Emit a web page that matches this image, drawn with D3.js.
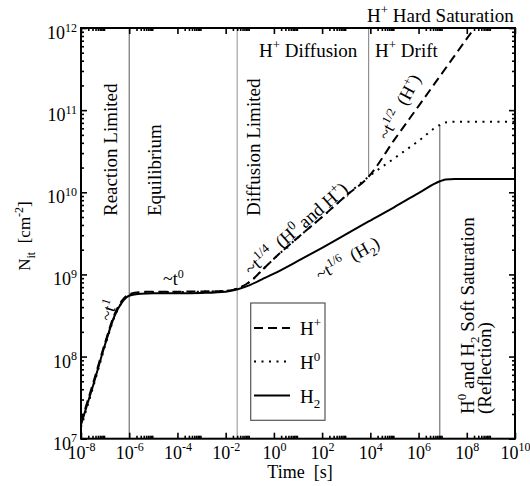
<!DOCTYPE html>
<html><head><meta charset="utf-8">
<script src="https://cdn.jsdelivr.net/npm/d3@7"></script>
<style>
body{margin:0;background:#fff;}
text{font-family:"Liberation Serif","Times New Roman",serif;fill:#000;white-space:pre;}
</style>
</head><body>
<svg id="c" width="530" height="486"></svg>
<script>
// ---------------- data ----------------
const seriesNames = ["H+", "H0", "H2"];
const legendLabels = ["H^{+}", "H^{0}", "H_{2}"];

// time [s] for the H0 and H2 curves
const timeH0H2 = [1e-8, 3.2e-8, 1e-7, 2.5e-7, 5e-7, 1e-6, 3.2e-6, 1e-5, 1e-4, 1e-3, 1e-2, 3.2e-2, 1e-1, 3.2e-1, 1, 10, 100, 1e3, 8.5e3, 1e5, 1e6, 7.6e6, 1.3e7, 3.2e7, 1e8, 1e9, 1e10];
const valuesH2 = [1.48e7, 4.47e7, 1.41e8, 3.16e8, 4.57e8, 5.5e8, 5.82e8, 5.89e8, 5.89e8, 5.96e8, 6.17e8, 6.61e8, 7.41e8, 8.71e8, 1.02e9, 1.46e9, 2.11e9, 3.09e9, 4.42e9, 6.61e9, 9.77e9, 1.36e10, 1.43e10, 1.45e10, 1.45e10, 1.45e10, 1.45e10];
const valuesH0 = [1.38e7, 4.27e7, 1.35e8, 3.09e8, 4.57e8, 5.62e8, 6.03e8, 6.1e8, 6.1e8, 6.17e8, 6.31e8, 6.76e8, 8.13e8, 1.12e9, 1.55e9, 2.82e9, 5.01e9, 9.12e9, 1.55e10, 2.6e10, 4.22e10, 6.61e10, 7.08e10, 7.24e10, 7.24e10, 7.24e10, 7.24e10];
// time [s] for the H+ curve
const timeHp = [1e-8, 3.2e-8, 1e-7, 2.5e-7, 5e-7, 1e-6, 3.2e-6, 1e-5, 1e-4, 1e-3, 1e-2, 3.2e-2, 1e-1, 3.2e-1, 1, 10, 100, 1e3, 8.5e3, 1e5, 1e6, 1e7, 1e8, 2.1e8];
const valuesHp = [1.58e7, 4.79e7, 1.48e8, 3.31e8, 4.79e8, 5.75e8, 6.1e8, 6.17e8, 6.17e8, 6.2e8, 6.31e8, 6.76e8, 8.13e8, 1.12e9, 1.55e9, 2.82e9, 5.01e9, 9.12e9, 1.55e10, 4.37e10, 1.12e11, 2.88e11, 7.41e11, 1e12];

// regime boundaries: time, lower N, upper N
const boundaryTimes = [1e-6, 3e-2, 8.5e3, 7.6e6];
const boundaryLow = [1e7, 1e7, 1.55e10, 1e7];
const boundaryHigh = [1e12, 1e12, 1e12, 6.61e10];

// axis ticks
const xTickValues = [1e-8, 1e-6, 1e-4, 1e-2, 1, 1e2, 1e4, 1e6, 1e8, 1e10];
const xTickLabels = ["10^{-8}", "10^{-6}", "10^{-4}", "10^{-2}", "10^{0}", "10^{2}", "10^{4}", "10^{6}", "10^{8}", "10^{10}"];
const yTickValues = [1e7, 1e8, 1e9, 1e10, 1e11, 1e12];
const yTickLabels = ["10^{7}", "10^{8}", "10^{9}", "10^{10}", "10^{11}", "10^{12}"];

// ---------------- layout ----------------
const W = 530, H = 486;
const m = {l: 81, t: 28, r: 515, b: 438.7};
const x = d3.scaleLog().domain([1e-8, 1e10]).range([m.l, m.r]);
const y = d3.scaleLog().domain([1e7, 1e12]).range([m.b, m.t]);
const svg = d3.select('#c');
svg.append('rect').attr('width', W).attr('height', H).attr('fill', '#fff');

function rich(sel, str, small, raise, drop) {
  const re = /(\^|_)\{([^}]*)\}/g; let last = 0, mt; const parts = [];
  while ((mt = re.exec(str))) {
    if (mt.index > last) parts.push({t: str.slice(last, mt.index), k: ''});
    parts.push({t: mt[2], k: mt[1]}); last = re.lastIndex;
  }
  if (last < str.length) parts.push({t: str.slice(last), k: ''});
  let shift = 0;
  parts.forEach(p => {
    const ts = sel.append('tspan').text(p.t);
    const target = p.k === '^' ? -raise : p.k === '_' ? drop : 0;
    if (target - shift !== 0) ts.attr('dy', target - shift);
    shift = target;
    if (p.k) ts.attr('font-size', small);
  });
  return sel;
}
function label(str, tx, ty, rot, size, anchor) {
  const t = svg.append('text')
    .attr('transform', `translate(${tx},${ty}) rotate(${rot || 0})`)
    .attr('font-size', size).attr('text-anchor', anchor || 'start');
  rich(t, str, Math.round(size * 0.68), size * 0.4, size * 0.28);
  return t;
}

// minor tick values
const xMinor = [];
for (let e = -8; e <= 8; e += 2) for (let k = 2; k <= 9; k++) xMinor.push(k * Math.pow(10, e));
const yMinor = [];
for (let e = 7; e <= 11; e++) for (let k = 2; k <= 9; k++) yMinor.push(k * Math.pow(10, e));

// ---------------- regime boundaries ----------------
const bColors = ['#666', '#999', '#888', '#666'];
svg.append('g').selectAll('line').data(boundaryTimes).join('line')
  .attr('x1', d => x(d)).attr('x2', d => x(d))
  .attr('y1', (d, i) => y(boundaryLow[i])).attr('y2', (d, i) => y(boundaryHigh[i]))
  .attr('stroke', (d, i) => bColors[i]).attr('stroke-width', 1.1);

// ---------------- curves ----------------
svg.append('defs').append('clipPath').attr('id', 'clip')
  .append('rect').attr('x', m.l).attr('y', m.t).attr('width', m.r - m.l).attr('height', m.b - m.t);
const line = d3.line().x(d => x(d[0])).y(d => y(d[1])).curve(d3.curveMonotoneX);
const curves = [
  {t: timeHp, v: valuesHp, dash: '9,5'},
  {t: timeH0H2, v: valuesH0, dash: '2,5.5'},
  {t: timeH0H2, v: valuesH2, dash: null}
];
const cg = svg.append('g').attr('clip-path', 'url(#clip)');
curves.slice().reverse().forEach(c => {
  cg.append('path').datum(c.t.map((t, i) => [t, c.v[i]]))
    .attr('d', line).attr('fill', 'none').attr('stroke', '#000')
    .attr('stroke-width', 2).attr('stroke-dasharray', c.dash);
});

// ---------------- axes ----------------
function styleAxis(g) { g.select('.domain').remove(); g.selectAll('line').attr('stroke', '#000'); }
const bottomMaj = svg.append('g').attr('transform', `translate(0,${m.b})`)
  .call(d3.axisBottom(x).tickValues(xTickValues).tickSize(-6).tickSizeOuter(0).tickFormat((d, i) => i)).call(styleAxis);
svg.append('g').attr('transform', `translate(0,${m.b})`)
  .call(d3.axisBottom(x).tickValues(xMinor).tickSize(-3).tickSizeOuter(0).tickFormat('')).call(styleAxis);
svg.append('g').attr('transform', `translate(0,${m.t})`)
  .call(d3.axisTop(x).tickValues(xTickValues).tickSize(-6).tickSizeOuter(0).tickFormat('')).call(styleAxis);
svg.append('g').attr('transform', `translate(0,${m.t})`)
  .call(d3.axisTop(x).tickValues(xMinor).tickSize(-3).tickSizeOuter(0).tickFormat('')).call(styleAxis);
const leftMaj = svg.append('g').attr('transform', `translate(${m.l},0)`)
  .call(d3.axisLeft(y).tickValues(yTickValues).tickSize(-6).tickSizeOuter(0).tickFormat((d, i) => i)).call(styleAxis);
svg.append('g').attr('transform', `translate(${m.l},0)`)
  .call(d3.axisLeft(y).tickValues(yMinor).tickSize(-3).tickSizeOuter(0).tickFormat('')).call(styleAxis);
svg.append('g').attr('transform', `translate(${m.r},0)`)
  .call(d3.axisRight(y).tickValues(yTickValues).tickSize(-6).tickSizeOuter(0).tickFormat('')).call(styleAxis);
svg.append('g').attr('transform', `translate(${m.r},0)`)
  .call(d3.axisRight(y).tickValues(yMinor).tickSize(-3).tickSizeOuter(0).tickFormat('')).call(styleAxis);
svg.selectAll('.tick line').attr('stroke-width', 1.6);

bottomMaj.selectAll('.tick text').each(function(d, i) {
  const t = d3.select(this); t.text('').attr('y', 20).attr('dy', null)
    .attr('font-size', 18).attr('font-family', null).attr('fill', '#000');
  rich(t, xTickLabels[i], 12, 7.5, 5);
});
leftMaj.selectAll('.tick text').each(function(d, i) {
  const t = d3.select(this); t.text('').attr('x', -4).attr('y', 10.5).attr('dy', null)
    .attr('font-size', 18).attr('font-family', null).attr('fill', '#000');
  rich(t, yTickLabels[i], 12, 7.5, 5);
});
bottomMaj.attr('font-family', null); leftMaj.attr('font-family', null);

// frame
svg.append('rect').attr('x', m.l).attr('y', m.t).attr('width', m.r - m.l).attr('height', m.b - m.t)
  .attr('fill', 'none').attr('stroke', '#000').attr('stroke-width', 2);

// ---------------- legend ----------------
const lg = svg.append('g');
lg.append('rect').attr('x', 250.7).attr('y', 303).attr('width', 74.3).attr('height', 117.3)
  .attr('fill', '#fff').attr('stroke', '#555').attr('stroke-width', 1.2);
const legY = [328, 361.5, 395.5];
curves.forEach((c, i) => {
  lg.append('line').attr('x1', 254).attr('x2', 290).attr('y1', legY[i]).attr('y2', legY[i])
    .attr('stroke', '#000').attr('stroke-width', 2).attr('stroke-dasharray', c.dash);
  const t = lg.append('text').attr('x', 300).attr('y', legY[i] + 7).attr('font-size', 19);
  rich(t, legendLabels[i], 13, 8, 5);
});

// ---------------- annotations ----------------
label('Reaction Limited', 116.5, 216, -90, 19);
label('Equilibrium', 161, 216, -90, 19);
label('Diffusion Limited', 259.5, 216, -90, 19);
label('H^{+} Diffusion', 259, 57, 0, 19);
label('H^{+} Drift', 375, 57, 0, 19);
label('H^{+} Hard Saturation', 367, 22, 0, 19);
label('H^{0} and H_{2} Soft Saturation', 474, 414, -90, 19);
label('(Reflection)', 491, 414, -90, 19);
label('~t^{1}', 111, 322, -72, 18);
label('~t^{0}', 163, 285, 0, 18);
label('~t^{1/4}  (H^{0} and H^{+})', 251, 276, -41, 18.5);
label('~t^{1/6}  (H_{2})', 320, 281, -29.5, 18);
label('~t^{1/2}  (H^{+})', 388, 141, -62, 18);

// axis titles
label('N_{it}  [cm^{-2}]', 30, 236, -90, 17, 'middle');
label('Time  [s]', 300, 478, 0, 18, 'middle');
</script>
</body></html>
